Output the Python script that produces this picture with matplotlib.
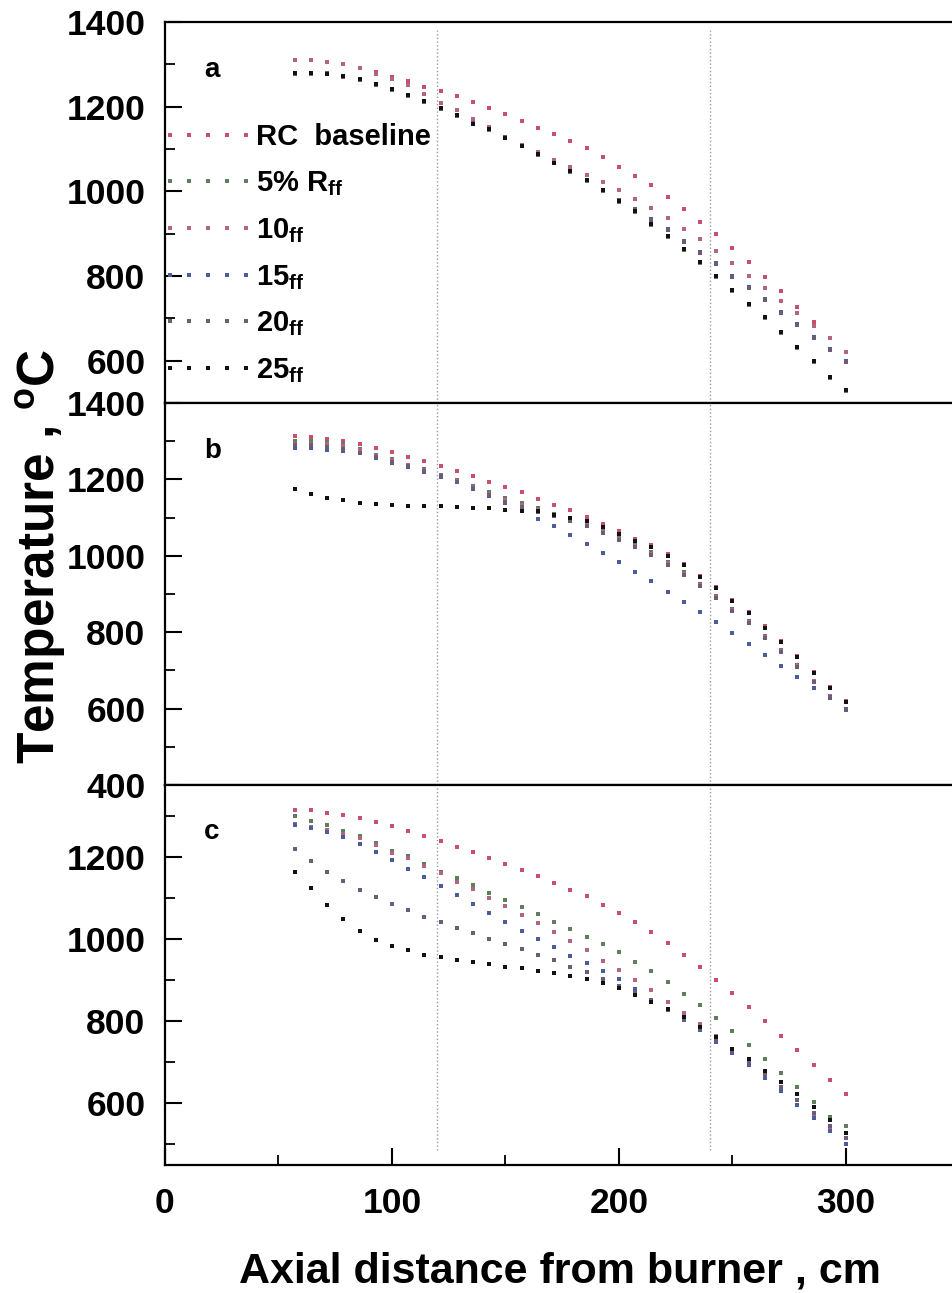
import matplotlib.pyplot as plt
from matplotlib.lines import Line2D
from matplotlib.ticker import MultipleLocator

plt.rcParams["font.family"] = "Liberation Sans"
plt.rcParams["font.weight"] = "bold"
plt.rcParams["mathtext.fontset"] = "custom"
for key in ("rm", "it", "bf", "sf"):
    plt.rcParams["mathtext." + key] = "Liberation Sans:bold"

# axial positions of the computed cells (cm)
dist = [57.1, 64.3, 71.4, 78.6, 85.7, 92.9, 100.0, 107.1, 114.3, 121.4,
        128.6, 135.7, 142.9, 150.0, 157.1, 164.3, 171.4, 178.6, 185.7, 192.9,
        200.0, 207.1, 214.3, 221.4, 228.6, 235.7, 242.9, 250.0, 257.1, 264.3,
        271.4, 278.6, 285.7, 292.9, 300.0]

labels = ["RC  baseline", "5% R$_{ff}$", "10$_{ff}$", "15$_{ff}$", "20$_{ff}$", "25$_{ff}$"]
colors = ["#c8506e", "#5f7f5c", "#b4647f", "#4c5c9c", "#6c5c78", "#111111"]

# case a
a_base = [1310, 1310, 1305, 1300, 1291, 1283, 1271, 1261, 1247, 1237, 1224, 1210, 1196, 1182, 1166, 1150, 1135, 1119,
          1102, 1080, 1058, 1037, 1015, 987, 958, 928, 899, 866, 833, 798, 765, 727, 691, 654, 620]
a_5 = [1278, 1278, 1277, 1270, 1263, 1251, 1240, 1226, 1211, 1194, 1178, 1159, 1146, 1126, 1106, 1086, 1066, 1046,
       1025, 1001, 975, 951, 921, 892, 861, 831, 798, 765, 732, 701, 665, 630, 597, 559, 528]
a_10 = [1310, 1310, 1305, 1300, 1291, 1276, 1265, 1251, 1230, 1208, 1192, 1170, 1151, 1129, 1109, 1092, 1074, 1058,
        1039, 1022, 1003, 982, 961, 937, 911, 887, 859, 831, 800, 772, 741, 713, 682, 654, 620]
a_15 = [1280, 1280, 1279, 1272, 1265, 1253, 1242, 1228, 1213, 1196, 1180, 1161, 1148, 1128, 1108, 1088, 1068, 1048,
        1027, 1003, 980, 958, 935, 911, 883, 857, 831, 800, 774, 746, 715, 687, 656, 628, 599]
a_20 = [1278, 1279, 1277, 1270, 1262, 1251, 1240, 1227, 1212, 1195, 1178, 1160, 1147, 1127, 1107, 1087, 1067, 1047,
        1026, 1002, 978, 956, 932, 908, 880, 854, 828, 797, 771, 743, 712, 684, 653, 625, 596]
a_25 = [1280, 1280, 1278, 1272, 1265, 1253, 1241, 1228, 1213, 1196, 1180, 1160, 1148, 1127, 1107, 1088, 1067, 1047,
        1026, 1002, 976, 953, 924, 895, 864, 834, 801, 768, 735, 703, 668, 633, 600, 562, 531]

# case b
b_base = [1313, 1310, 1306, 1301, 1292, 1282, 1271, 1259, 1248, 1235, 1222, 1208, 1193, 1180, 1166, 1150, 1134, 1119,
          1102, 1083, 1064, 1045, 1027, 1004, 979, 948, 918, 885, 852, 815, 778, 738, 696, 657, 620]
b_5 = [1301, 1301, 1297, 1292, 1280, 1265, 1253, 1239, 1226, 1212, 1198, 1183, 1166, 1152, 1137, 1124, 1110, 1096,
       1086, 1067, 1048, 1029, 1010, 983, 957, 927, 896, 861, 829, 791, 754, 714, 673, 632, 596]
b_10 = [1294, 1294, 1292, 1287, 1276, 1262, 1250, 1237, 1224, 1210, 1196, 1180, 1162, 1146, 1132, 1121, 1106, 1094,
        1082, 1062, 1044, 1025, 1006, 980, 953, 923, 892, 858, 826, 788, 750, 712, 672, 632, 598]
b_15 = [1283, 1283, 1278, 1274, 1268, 1256, 1244, 1233, 1220, 1207, 1193, 1176, 1156, 1138, 1117, 1097, 1077, 1055,
        1032, 1008, 983, 957, 933, 906, 878, 852, 826, 797, 769, 741, 712, 683, 655, 629, 600]
b_20 = [1290, 1289, 1286, 1280, 1270, 1258, 1246, 1235, 1222, 1208, 1194, 1178, 1160, 1142, 1128, 1115, 1103, 1091,
        1079, 1060, 1041, 1022, 1003, 977, 950, 920, 889, 855, 823, 785, 748, 710, 670, 631, 597]
b_25 = [1176, 1163, 1152, 1145, 1139, 1135, 1132, 1130, 1130, 1130, 1127, 1126, 1125, 1121, 1118, 1117, 1108, 1100,
        1090, 1075, 1058, 1040, 1022, 1000, 975, 945, 915, 882, 849, 812, 775, 735, 694, 655, 618]

# case c
c_base = [1315, 1313, 1308, 1302, 1294, 1285, 1274, 1263, 1251, 1239, 1225, 1211, 1197, 1183, 1168, 1153, 1137, 1120,
          1104, 1084, 1064, 1042, 1018, 991, 962, 932, 901, 869, 834, 800, 765, 729, 693, 656, 622]
c_5 = [1300, 1288, 1278, 1264, 1250, 1233, 1215, 1201, 1183, 1164, 1148, 1132, 1111, 1095, 1077, 1060, 1042, 1024,
       1006, 988, 968, 945, 922, 896, 867, 839, 809, 776, 743, 709, 675, 640, 603, 567, 545]
c_10 = [1280, 1272, 1266, 1255, 1245, 1228, 1209, 1197, 1178, 1160, 1140, 1122, 1101, 1080, 1059, 1038, 1018, 995,
        973, 946, 924, 900, 876, 847, 820, 793, 763, 733, 705, 672, 640, 607, 575, 542, 515]
c_15 = [1278, 1270, 1260, 1248, 1231, 1213, 1193, 1171, 1150, 1130, 1107, 1085, 1063, 1042, 1020, 1000, 981, 958,
        941, 922, 902, 878, 852, 827, 802, 778, 750, 722, 693, 662, 630, 597, 565, 532, 502]
c_20 = [1219, 1190, 1164, 1141, 1120, 1102, 1085, 1071, 1054, 1041, 1028, 1014, 1000, 988, 975, 962, 949, 932,
        920, 902, 885, 868, 850, 829, 805, 783, 757, 729, 700, 670, 640, 608, 577, 545, 515]
c_25 = [1162, 1124, 1083, 1049, 1020, 998, 983, 973, 961, 957, 950, 945, 940, 933, 929, 923, 917, 910,
        902, 892, 880, 863, 847, 829, 810, 786, 762, 733, 707, 680, 651, 622, 590, 559, 527]

panels = [
    ("a", [a_base, a_5, a_10, a_15, a_20, a_25], (500, 1400)),
    ("b", [b_base, b_5, b_10, b_15, b_20, b_25], (400, 1400)),
    ("c", [c_base, c_5, c_10, c_15, c_20, c_25], (450, 1375)),
]

fig = plt.figure(figsize=(9.53, 12.93), dpi=100)
left, width = 0.1731, 0.8337
boxes = [(0.6883, 0.2947), (0.3929, 0.2954), (0.0990, 0.2939)]

axes = []
for (tag, series, ylim), (bottom, height) in zip(panels, boxes):
    ax = fig.add_axes([left, bottom, width, height])
    for vals, col in zip(series, colors):
        ax.plot(dist, vals, ls="none", marker="s", ms=2.6, mew=0, color=col)
    ax.set_xlim(0, 350)
    ax.set_ylim(*ylim)
    ax.yaxis.set_major_locator(MultipleLocator(200))
    ax.yaxis.set_minor_locator(MultipleLocator(100))
    ax.xaxis.set_major_locator(MultipleLocator(100))
    ax.xaxis.set_minor_locator(MultipleLocator(50))
    ax.tick_params(which="major", direction="in", length=12, width=1.5, labelsize=25.5, pad=14)
    ax.tick_params(which="minor", direction="in", length=7, width=1.3)
    ax.tick_params(axis="x", which="both", top=False)
    ax.tick_params(axis="y", which="both", right=False)
    for sp in ax.spines.values():
        sp.set_linewidth(1.6)
    ax.text(0.049, 0.875, tag, transform=ax.transAxes, fontsize=20, va="center", ha="left")
    axes.append(ax)

for ax in axes[:2]:
    ax.tick_params(axis="x", which="both", bottom=False, labelbottom=False)
axes[2].tick_params(axis="x", pad=16)

# zone boundaries
for i, ax in enumerate(axes):
    lo = 0.04 if i == 2 else 0.0
    hi = 0.98 if i == 0 else 1.0
    for xv in (120, 240):
        ax.axvline(xv, ymin=lo, ymax=hi, color="#9a9a9a", ls=":", lw=1.0)

handles = [Line2D([], [], ls="none", marker="s", ms=2.8, mew=0, color=c) for c in colors]
axes[0].legend(handles, labels, numpoints=5, loc="upper left", bbox_to_anchor=(-0.005, 0.735),
               frameon=False, fontsize=21, handlelength=3.2, handletextpad=0.05,
               labelspacing=0.62, borderaxespad=0, borderpad=0)

fig.text(0.043, 0.570, "Temperature , $^{o}$C", rotation=90, fontsize=37, ha="center", va="center")
fig.text(0.588, 0.017, "Axial distance from burner , cm", fontsize=31, ha="center", va="center")

fig.savefig("out.png", dpi=100)
